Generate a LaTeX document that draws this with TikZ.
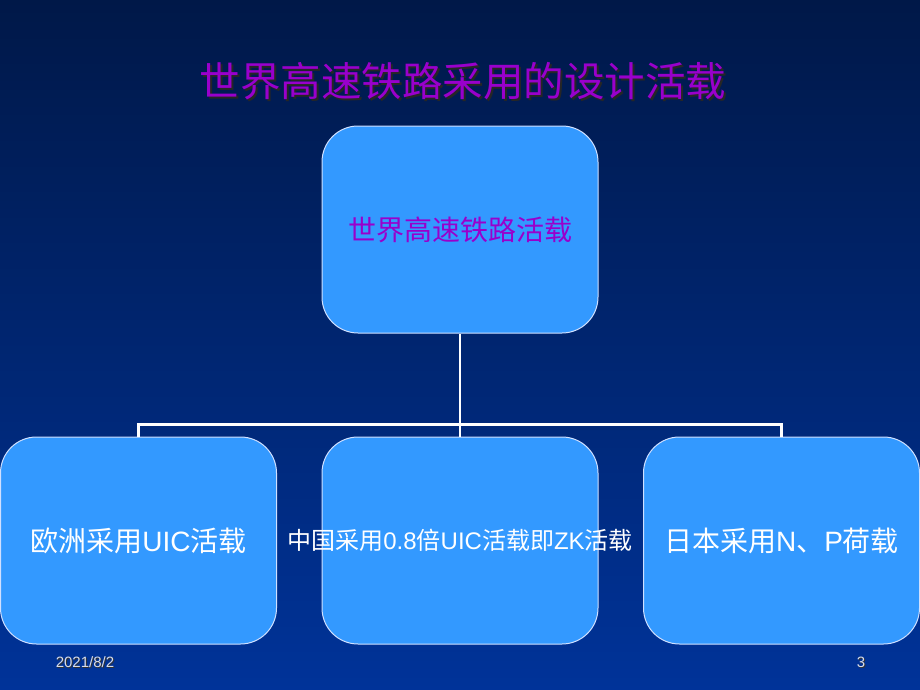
\documentclass[tikz,border=0pt]{standalone}
\usepackage{fontspec}
\setmainfont{Liberation Sans}
\newfontfamily\cjk{Noto Sans CJK SC}
\definecolor{bgtop}{HTML}{001848}
\definecolor{bgbot}{HTML}{003399}
\definecolor{boxfill}{HTML}{3399FF}
\definecolor{boxline}{HTML}{D0E0FF}
\definecolor{titlecol}{HTML}{9900CC}
\definecolor{footcol}{HTML}{D8DCE8}
\tikzset{
  box/.style={draw=boxline, line width=1pt, fill=boxfill, rounded corners=36pt,
    minimum width=276pt, minimum height=207pt, inner sep=0pt, text=white},
  link/.style={draw=white, line width=2.2pt},
  titlefont/.style={font=\cjk\fontsize{40.5}{43}\selectfont, inner sep=0pt},
  foot/.style={font=\fontsize{15}{17}\selectfont, text=footcol, inner sep=0pt},
  footshadow/.style={font=\fontsize{15}{17}\selectfont, text=black!80, inner sep=0pt},
}
\begin{document}
\begin{tikzpicture}[x=1pt,y=1pt]
\useasboundingbox (0,0) rectangle (920,-690);
\shade[top color=bgtop, bottom color=bgbot] (0,0) rectangle (920,-690);
% title with shadow
\node[titlefont, text=black!85] (titleshadow) at (465,-83) {世界高速铁路采用的设计活载};
\node[titlefont, text=titlecol] (title) at (463,-81) {世界高速铁路采用的设计活载};
% boxes
\node[box, text=titlecol] (top) at (460,-229.5) {\makebox[0pt]{\cjk\fontsize{28}{30}\selectfont 世界高速铁路活载}};
\node[box] (eu) at (138.5,-540.5) {\makebox[0pt]{\fontsize{28}{30}\selectfont{\cjk 欧洲采用}UIC{\cjk 活载}}};
\node[box] (cn) at (460,-540.5) {\makebox[0pt]{\fontsize{24}{26}\selectfont{\cjk 中国采用}0.8{\cjk 倍}UIC{\cjk 活载即}ZK{\cjk 活载}}};
\node[box] (jp) at (781.5,-540.5) {\makebox[0pt]{\fontsize{28}{30}\selectfont{\cjk 日本采用}N{\cjk 、}P{\cjk 荷载}}};
% connectors
\coordinate (bus) at (460,-424.5);
\draw[link] (top.south) -- (bus);
\draw[link] (eu.north) |- (bus) -| (jp.north);
\draw[link] (bus) -- (cn.north);
% footer
\node[footshadow] (dates) at (86,-663.5) {2021/8/2};
\node[foot] (date) at (85,-662.5) {2021/8/2};
\node[footshadow] (pages) at (862,-663.5) {3};
\node[foot] (page) at (861,-662.5) {3};
\end{tikzpicture}
\end{document}
